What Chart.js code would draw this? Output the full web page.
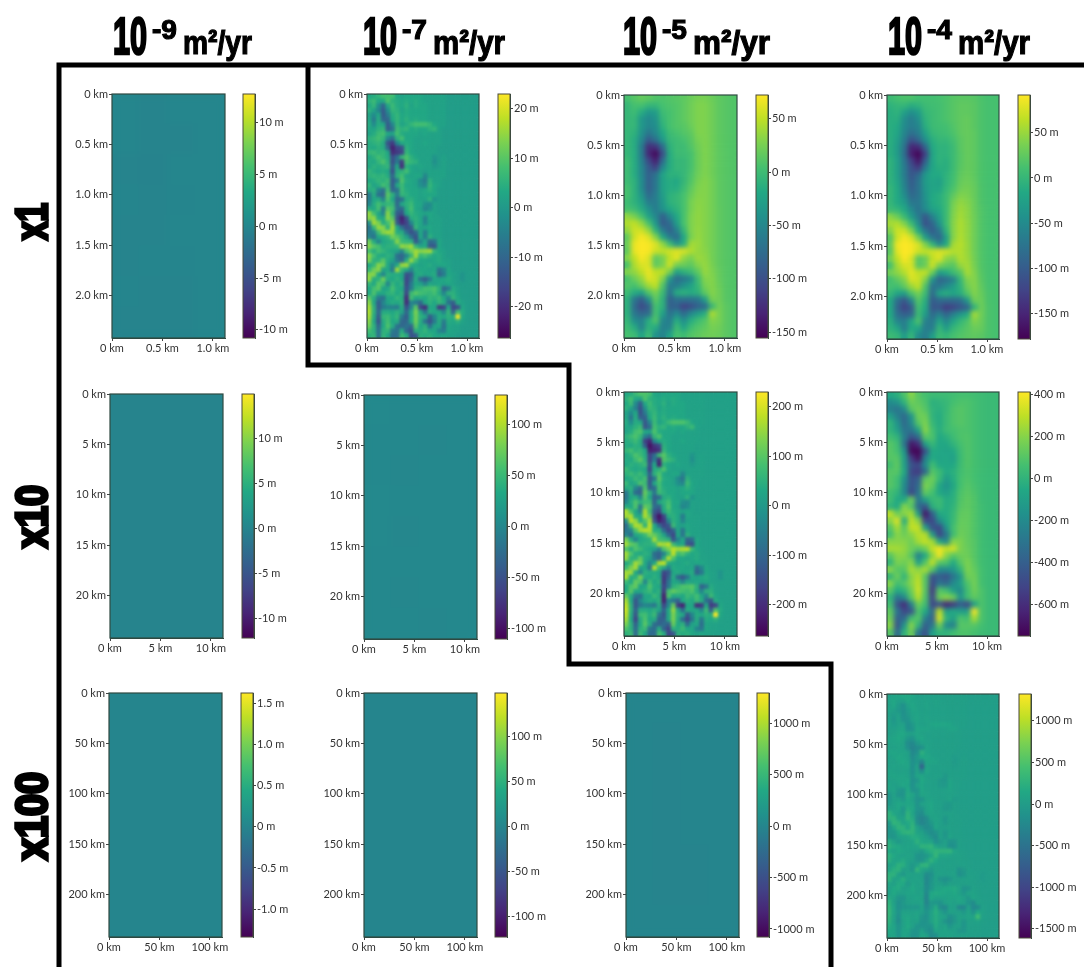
<!DOCTYPE html>
<html>
<head>
<meta charset="utf-8">
<title>Relief change grid</title>
<script src="https://cdn.jsdelivr.net/npm/chart.js@4"></script>
<style>
  html, body { margin: 0; background: #fff; }
  #page { position: relative; width: 1084px; height: 967px; overflow: hidden; }
  #page canvas { position: absolute; }
  #overlay { position: absolute; left: 0; top: 0; }
  #overlay text { font-family: "Liberation Sans Narrow", "Liberation Sans", sans-serif; font-weight: 700; fill: #000; stroke: #000; }
</style>
</head>
<body>
<div id="page"></div>
<script>
// difference fields in metres
// the sharp panels are 24 columns x 52 rows, the smooth ones 16 x 35
const d7x1 = [
[3,4,6,8,8,8,3,2,3,3,3,3,2,2,2,2,2,1,1,1,1,1,1,1],[5,7,3,3,9,5,4,3,4,3,4,3,2,2,2,2,2,1,1,1,1,1,1,1],[3,6,-2,-10,3,7,4,3,5,2,4,3,3,2,2,2,2,1,1,1,1,1,1,1],
[5,2,-4,-12,-2,6,5,2,4,3,3,3,3,2,2,2,2,1,1,1,1,1,1,1],[2,-3,3,-12,-6,4,6,3,4,3,3,3,3,2,2,2,2,1,1,1,1,1,1,1],[3,-6,4,-10,-10,3,6,3,5,3,4,3,3,2,2,2,2,1,1,1,1,1,1,1],
[4,-3,4,3,-12,-4,6,2,4,6,8,8,8,6,3,2,2,1,1,1,1,1,1,1],[3,2,5,6,-12,-8,7,5,6,3,4,3,3,5,6,2,1,1,1,1,1,1,1,1],[2,4,7,8,3,2,8,4,3,3,3,2,3,2,2,2,1,1,1,1,1,1,1,1],
[5,6,8,6,-4,-8,5,8,3,3,2,2,2,2,2,2,1,1,1,1,1,1,1,1],[4,5,6,4,-14,-18,-4,3,4,3,2,2,3,2,2,2,1,1,1,1,1,1,1,1],[4,3,5,4,-10,-22,-16,-14,5,3,2,2,2,2,2,1,1,1,1,1,1,1,1,1],
[6,7,5,6,3,-20,-18,-16,6,3,2,2,2,2,2,1,1,1,1,1,1,1,1,1],[3,5,8,6,4,-14,-8,6,9,5,3,2,2,2,-1,1,2,1,1,1,1,1,1,1],[4,3,6,9,5,-14,-6,-18,8,6,5,2,2,2,-2,1,2,1,1,1,1,1,1,1],
[3,5,4,5,6,-12,3,-20,5,3,2,3,2,2,0,1,2,1,1,1,1,1,1,1],[6,4,3,4,3,-14,4,5,8,3,2,2,1,2,2,2,2,1,1,1,1,1,1,1],[5,6,5,6,4,-10,5,8,3,2,3,3,-4,2,2,2,2,1,1,1,1,1,1,1],
[3,4,6,5,7,-12,-6,9,4,3,2,-3,-6,5,2,2,1,1,1,1,1,1,1,1],[6,2,4,8,6,-12,3,7,3,3,2,-2,-4,6,3,2,1,1,1,1,1,1,1,1],[4,5,-4,-8,8,-10,-8,7,4,3,3,2,3,5,3,1,1,1,1,1,1,1,1,1],
[-6,4,-8,-10,10,5,-6,6,5,3,3,2,3,3,3,1,1,1,1,1,1,1,1,1],[-6,3,4,-4,9,3,-10,-8,4,5,3,2,2,5,-1,1,1,1,1,1,1,1,1,1],[-4,4,8,5,6,6,-10,3,5,7,3,3,-2,-3,2,1,1,1,1,1,1,1,1,1],
[4,3,8,-6,10,8,-8,-10,4,8,3,2,-4,-2,2,1,1,1,1,1,1,1,1,1],[15,8,3,-4,14,6,-12,-14,3,6,4,3,2,3,2,1,1,1,1,1,1,1,1,1],[14,15,4,3,14,10,-14,-22,-14,4,5,3,-5,3,2,2,1,1,1,1,1,1,1,1],
[-2,16,13,4,8,14,-12,-20,-16,-4,5,3,-4,2,2,2,1,1,1,1,1,1,1,1],[-8,6,15,14,5,16,3,-8,-14,-12,6,2,2,3,2,2,1,1,1,1,1,1,1,1],[-6,-4,8,14,16,15,4,4,-8,-14,-10,3,-6,3,2,2,1,1,1,1,1,1,1,1],
[-4,-8,3,4,6,12,10,6,2,-8,-14,3,-6,5,2,2,1,1,1,1,1,1,1,1],[12,4,-4,3,4,5,14,7,6,5,-12,-4,3,-10,-8,3,1,1,1,1,1,1,1,1],[14,10,8,4,5,5,6,15,14,16,6,2,3,-12,-13,3,1,1,1,1,1,1,1,1],
[8,4,8,6,4,3,2,-4,8,12,16,14,15,16,6,3,2,1,1,1,1,1,1,1],[14,8,4,3,5,4,-8,-10,-4,6,16,6,8,5,3,4,2,1,1,1,1,1,1,1],[13,5,5,10,4,2,-6,-10,4,15,8,3,3,2,3,4,2,2,1,1,1,1,1,1],
[3,6,14,12,3,-4,3,15,16,4,3,2,3,4,2,3,3,2,1,1,1,1,1,1],[6,12,14,2,3,-6,16,6,3,-4,4,3,3,2,3,-8,-4,3,1,1,1,1,1,1],[14,14,3,-4,5,4,4,3,-14,-12,3,4,2,3,4,-10,-6,3,2,1,-1,1,1,1],
[15,4,5,12,4,3,5,3,-16,-10,4,-8,-12,-6,3,2,3,4,2,1,-1,1,1,1],[6,3,10,8,-4,6,3,5,-16,-6,3,2,-4,3,2,3,2,3,2,1,1,1,1,1],[3,8,10,2,3,8,4,3,-14,-6,5,6,8,8,9,5,-10,-6,4,2,1,1,1,1],
[3,9,3,3,5,6,3,5,-16,7,10,8,7,6,8,4,-4,5,5,2,1,1,1,1],[10,4,-6,-8,3,3,6,4,-20,8,3,4,3,6,5,7,3,-4,6,3,1,1,1,1],[14,3,-12,-4,2,4,3,5,-20,-4,-6,-10,3,5,3,6,4,-8,-12,4,2,1,1,1],
[16,5,-12,-6,-4,-5,-6,4,-14,-4,10,-16,-20,3,3,-18,-16,3,-16,-14,3,1,1,1],[17,5,-10,4,4,3,5,2,-10,3,13,3,-8,4,3,3,-4,6,-10,8,4,1,1,1],[16,4,-12,6,7,4,6,-6,-12,3,12,5,3,-12,-4,4,3,5,4,22,3,1,1,1],
[14,3,-14,4,8,3,4,-10,-10,3,12,4,-8,-14,-6,4,-6,4,3,5,2,1,1,1],[12,5,-10,3,9,4,-8,-10,-8,-10,10,3,5,-8,2,3,-8,3,2,2,1,1,1,1],[8,5,-8,5,6,-6,-8,4,-10,-14,5,4,6,3,3,-4,-6,3,2,2,1,1,1,1],
[5,6,-8,6,3,-8,-8,7,4,-14,-12,5,4,5,3,2,3,2,2,1,1,1,1,1]
];
const d5x1 = [
[5,12,18,15,10,8,10,12,15,20,25,25,20,15,12,10],[-5,5,5,-5,-5,5,8,10,15,22,28,28,22,15,12,10],[-5,0,-15,-35,-30,0,5,10,15,22,28,28,22,15,12,10],
[-5,-5,-35,-50,-40,-5,5,10,15,22,28,28,22,15,12,10],[-5,-5,-35,-50,-45,-10,5,10,12,20,28,28,22,15,12,10],[-5,-10,-40,-65,-50,-20,0,5,10,15,28,28,22,15,12,10],
[-5,-15,-50,-90,-70,-35,-5,0,5,12,25,28,22,15,12,10],[-5,-15,-60,-125,-120,-75,-10,0,0,10,22,28,22,15,12,10],[-5,-15,-60,-130,-150,-100,-15,0,0,5,20,28,22,15,12,10],
[0,-15,-55,-105,-135,-75,-15,-5,-5,5,20,28,22,15,12,10],[0,-15,-50,-90,-110,-50,-15,-5,-5,5,20,28,22,15,12,10],[0,-15,-50,-85,-70,-25,-10,-10,-5,8,22,28,22,15,12,10],
[0,-10,-45,-85,-65,-25,-15,-20,-5,10,25,30,24,15,12,10],[5,-10,-45,-85,-65,-25,-15,-15,0,15,28,30,24,15,12,10],[5,-10,-35,-75,-60,-30,-10,-5,5,20,30,30,24,15,12,10],
[0,-10,-25,-60,-60,-35,-10,-5,5,25,32,30,24,15,12,10],[5,0,-15,-40,-60,-40,-20,-10,5,25,33,30,24,16,12,10],[35,25,5,-25,-50,-85,-50,-20,5,28,34,30,24,16,12,10],
[45,50,35,5,-35,-90,-75,-30,5,28,34,30,24,16,12,10],[35,55,55,35,-10,-60,-85,-55,-5,28,35,30,24,16,12,10],[15,55,70,60,30,-20,-60,-75,-20,25,36,30,24,16,12,10],
[20,65,72,70,60,35,0,-40,-15,40,38,30,24,16,12,10],[15,65,72,70,55,50,55,60,58,45,36,32,24,16,12,10],[30,50,70,60,15,25,50,62,35,25,38,34,24,16,12,10],
[5,45,60,60,15,25,55,25,20,15,30,36,26,16,12,10],[30,35,50,65,50,50,25,-25,-10,0,15,36,28,18,12,10],[5,20,35,60,55,30,-35,-75,-65,-50,0,30,30,18,12,10],
[10,5,20,40,50,10,-60,-60,-40,-25,-5,25,30,20,12,10],[0,-15,-25,10,25,0,-70,-15,-10,-15,-10,15,30,22,12,10],[-10,-65,-90,-45,15,-10,-85,-70,-70,-70,-65,-30,25,22,12,10],
[-10,-75,-105,-85,5,-10,-85,-85,-110,-100,-85,-75,-5,24,14,10],[-10,-65,-80,-75,5,-25,-70,-50,-75,-50,-30,-15,45,25,14,10],[-5,-45,-55,-15,10,-50,-60,-15,-45,-15,0,10,30,25,14,10],
[0,-15,-55,-10,-15,-55,-55,0,-25,0,10,15,25,22,14,10],[5,0,-25,0,-40,-55,-25,5,0,10,15,20,22,20,14,10]
];
const d4x1 = [
[5,12,15,15,10,10,10,12,15,20,22,22,20,15,12,12],[-5,0,0,-10,-5,5,8,10,15,20,25,25,22,15,12,12],[-10,-5,-25,-45,-30,0,5,10,15,20,25,25,22,15,12,12],
[-10,-10,-45,-65,-45,-5,5,10,15,20,25,28,22,15,12,12],[-10,-15,-50,-65,-55,-10,5,8,10,18,25,28,22,15,12,12],[-10,-20,-55,-80,-65,-25,0,5,8,15,25,28,24,15,12,12],
[-10,-25,-65,-110,-90,-45,-10,0,0,10,22,28,24,15,12,12],[-10,-30,-75,-150,-145,-90,-15,-5,-5,5,22,28,24,15,12,12],[-10,-30,-80,-155,-175,-125,-20,-5,-5,5,20,28,24,15,12,12],
[-5,-25,-70,-125,-160,-95,-20,-5,-10,5,20,28,24,15,12,12],[-5,-25,-65,-110,-130,-65,-20,-10,-10,5,22,28,24,15,12,12],[-5,-25,-65,-105,-85,-35,-15,-15,-5,8,25,30,24,15,12,12],
[-5,-20,-60,-100,-75,-30,-20,-25,-5,10,28,32,26,15,12,12],[0,-15,-55,-95,-75,-35,-20,-20,0,15,32,35,28,16,12,12],[0,-15,-45,-85,-75,-40,-15,-10,5,25,40,38,28,16,12,12],
[0,-15,-30,-70,-70,-45,-15,-10,5,35,48,42,30,16,12,12],[5,0,-15,-50,-75,-50,-25,-15,5,38,52,45,30,18,12,12],[45,30,5,-30,-65,-105,-60,-25,5,40,55,45,32,18,12,12],
[55,60,40,5,-45,-110,-90,-40,5,42,58,48,32,18,12,12],[40,70,70,40,-15,-70,-100,-70,-5,42,58,48,32,18,12,12],[20,70,88,75,35,-25,-70,-90,-25,42,60,48,32,18,12,12],
[25,85,92,88,75,40,0,-50,-15,55,62,50,32,18,12,12],[20,80,92,88,70,65,70,75,72,60,60,50,32,18,12,12],[35,65,90,75,20,30,65,78,45,40,60,52,34,18,12,12],
[10,55,75,75,20,30,70,35,25,20,48,55,36,18,12,12],[35,45,60,80,65,65,30,-30,-15,5,20,55,40,20,12,12],[10,25,40,75,70,40,-40,-90,-80,-60,0,40,42,22,12,12],
[12,8,25,50,65,15,-75,-70,-50,-30,-5,32,42,25,12,12],[0,-20,-30,15,35,5,-85,-20,-10,-20,-10,18,40,28,14,12],[-15,-80,-105,-55,20,-10,-100,-85,-85,-85,-80,-35,32,30,14,12],
[-15,-90,-125,-100,10,-15,-105,-105,-130,-120,-105,-90,-5,32,15,12],[-15,-80,-95,-90,5,-30,-85,-60,-90,-60,-35,-15,55,32,15,12],[-10,-55,-65,-20,15,-60,-70,-20,-55,-20,0,15,40,30,15,12],
[-5,-20,-65,-15,-20,-65,-65,0,-30,0,12,20,30,28,15,12],[5,0,-30,0,-50,-65,-30,5,0,12,18,22,25,22,15,12]
];
const d5x10 = [
[30,40,70,90,90,80,30,20,30,30,30,30,20,20,20,20,20,15,15,15,15,15,15,15],[50,80,30,20,90,50,40,30,40,30,40,30,20,20,20,20,20,15,15,15,15,15,15,15],[30,70,-30,-120,30,70,40,30,50,20,40,30,30,20,20,20,20,15,15,15,15,15,15,15],
[50,20,-50,-140,-20,60,50,20,40,30,30,30,30,20,20,20,20,15,15,15,15,15,15,15],[20,-30,30,-140,-60,40,60,30,40,30,30,30,30,20,20,20,20,15,15,15,15,15,15,15],[30,-70,40,-110,-110,30,70,30,50,30,40,30,30,20,20,20,20,15,15,15,15,15,15,15],
[40,-30,40,30,-130,-40,70,20,40,70,90,90,90,70,30,20,20,15,15,15,15,15,15,15],[30,20,50,70,-130,-90,80,50,60,30,40,30,30,50,70,20,15,15,15,15,15,15,15,15],[20,40,80,90,30,20,90,40,30,30,30,20,30,20,20,20,15,15,15,15,15,15,15,15],
[50,70,90,60,-50,-90,60,90,30,30,20,20,20,20,20,20,15,15,15,15,15,15,15,15],[40,50,70,40,-170,-210,-40,30,40,30,20,20,30,20,20,20,15,15,15,15,15,15,15,15],[40,30,50,40,-120,-240,-190,-160,50,30,20,20,20,20,20,15,15,15,15,15,15,15,15,15],
[60,80,50,60,30,-220,-210,-190,60,30,20,20,20,20,20,15,15,15,15,15,15,15,15,15],[30,50,90,70,40,-160,-90,70,100,50,30,20,20,20,-10,15,20,15,15,15,15,15,15,15],[40,30,70,100,50,-160,-60,-200,90,70,50,20,20,20,-20,15,20,15,15,15,15,15,15,15],
[30,50,40,50,70,-140,30,-220,50,30,20,30,20,20,0,15,20,15,15,15,15,15,15,15],[70,40,30,40,30,-160,40,50,90,30,20,20,15,20,20,20,20,15,15,15,15,15,15,15],[50,70,50,70,40,-110,50,90,30,20,30,30,-40,20,20,20,20,15,15,15,15,15,15,15],
[30,40,70,50,80,-130,-70,100,40,30,20,-30,-70,50,20,20,15,15,15,15,15,15,15,15],[70,20,40,90,70,-130,30,80,30,30,20,-20,-40,70,30,20,15,15,15,15,15,15,15,15],[40,50,-40,-90,90,-110,-90,80,40,30,30,20,30,50,30,15,15,15,15,15,15,15,15,15],
[-70,40,-90,-110,110,50,-70,70,50,30,30,20,30,30,30,15,15,15,15,15,15,15,15,15],[-70,30,40,-40,100,30,-110,-90,40,50,30,20,20,50,-10,15,15,15,15,15,15,15,15,15],[-40,40,90,50,70,70,-110,30,50,80,30,30,-20,-30,20,15,15,15,15,15,15,15,15,15],
[40,30,90,-70,110,90,-90,-110,40,90,30,20,-40,-20,20,15,15,15,15,15,15,15,15,15],[170,90,30,-40,170,70,-130,-160,30,70,40,30,20,30,20,15,15,15,15,15,15,15,15,15],[160,170,40,30,170,110,-160,-240,-160,40,50,30,-60,30,20,20,15,15,15,15,15,15,15,15],
[-20,180,150,40,90,160,-130,-220,-180,-40,50,30,-40,20,20,20,15,15,15,15,15,15,15,15],[-90,70,170,160,50,180,30,-90,-160,-130,70,20,20,30,20,20,15,15,15,15,15,15,15,15],[-70,-40,90,160,180,170,40,40,-90,-160,-110,30,-70,30,20,20,15,15,15,15,15,15,15,15],
[-40,-90,30,40,70,130,110,70,20,-90,-160,30,-70,50,20,20,15,15,15,15,15,15,15,15],[130,40,-40,30,40,50,160,80,70,50,-130,-40,30,-110,-90,30,15,15,15,15,15,15,15,15],[160,110,90,40,50,50,70,170,160,180,70,20,30,-130,-150,30,15,15,15,15,15,15,15,15],
[90,40,90,70,40,30,20,-40,90,130,180,160,170,180,70,30,20,15,15,15,15,15,15,15],[160,90,40,30,50,40,-90,-110,-40,70,180,70,90,50,30,40,20,15,15,15,15,15,15,15],[150,50,50,110,40,20,-70,-110,40,170,90,30,30,20,30,40,20,20,15,15,15,15,15,15],
[30,70,160,130,30,-40,30,170,180,40,30,20,30,40,20,30,30,20,15,15,15,15,15,15],[70,130,160,20,30,-70,180,70,30,-40,40,30,30,20,30,-90,-40,30,15,15,15,15,15,15],[160,160,30,-40,50,40,40,30,-160,-130,30,40,20,30,40,-110,-70,30,20,15,-10,15,15,15],
[170,40,50,130,40,30,50,30,-180,-110,40,-90,-130,-70,30,20,30,40,20,15,-10,15,15,15],[70,30,110,90,-40,70,30,50,-180,-70,30,20,-40,30,20,30,20,30,20,15,15,15,15,15],[30,90,110,20,30,90,40,30,-160,-70,50,70,90,90,100,50,-110,-70,40,20,15,15,15,15],
[30,100,30,30,50,70,30,50,-180,80,110,90,80,70,90,40,-40,50,50,20,15,15,15,15],[110,40,-70,-90,30,30,70,40,-220,90,30,40,30,70,50,80,30,-40,70,30,15,15,15,15],[160,30,-130,-40,20,40,30,50,-220,-40,-70,-110,30,50,30,70,40,-90,-130,40,20,15,15,15],
[180,50,-130,-70,-40,-50,-70,40,-160,-40,110,-180,-220,30,30,-200,-180,30,-180,-160,30,15,15,15],[190,50,-110,40,40,30,50,20,-110,30,150,30,-90,40,30,30,-40,70,-110,90,40,15,15,15],[180,40,-130,70,80,40,70,-70,-130,30,130,50,30,-130,-40,40,30,50,40,230,30,15,15,15],
[160,30,-160,40,90,30,40,-110,-110,30,130,40,-90,-160,-70,40,-70,40,30,50,20,15,15,15],[130,50,-110,30,100,40,-90,-110,-90,-110,110,30,50,-90,20,30,-90,30,20,20,15,15,15,15],[90,50,-90,50,70,-70,-90,40,-110,-160,50,40,70,30,30,-40,-70,30,20,20,15,15,15,15],
[50,70,-90,70,30,-90,-90,80,40,-160,-130,50,40,50,30,20,30,20,20,15,15,15,15,15]
];
const d4x10 = [
[-50,-20,80,200,100,60,40,40,40,50,60,60,50,40,30,30],[-200,-150,0,150,120,80,-20,0,20,60,80,80,60,40,30,30],[-250,-300,-200,100,150,100,0,-20,20,80,100,80,60,40,30,30],
[-100,-250,-350,-150,150,150,0,-40,30,80,100,80,60,40,30,30],[0,-150,-350,-200,100,180,20,-40,30,80,100,80,60,40,30,30],[0,-100,-300,-300,-100,200,60,-30,40,60,80,80,60,40,30,30],
[50,0,-250,-450,-350,100,80,-60,-20,40,80,90,60,40,30,30],[100,50,-300,-680,-600,-100,20,-60,-60,0,60,90,60,40,30,30],[100,60,-150,-720,-740,-450,-50,-60,-80,-60,40,90,60,40,30,30],
[100,100,-100,-550,-700,-250,-50,-80,-60,-100,30,90,60,40,30,30],[50,120,-100,-450,-500,-200,50,-60,-60,-60,40,90,60,40,30,30],[100,100,-50,-500,-550,-350,100,40,-50,-20,50,80,60,40,30,30],
[100,50,-150,-450,-400,120,150,20,-120,-40,60,90,60,40,30,30],[100,50,-200,-450,-350,180,120,-60,-160,-60,60,100,70,40,30,30],[50,0,-200,-500,-300,120,60,-60,-100,-30,80,110,80,40,30,30],
[50,-50,-50,150,-300,-100,20,40,-40,-20,90,120,90,40,30,30],[0,-50,200,100,-350,-450,-20,30,-40,0,100,120,90,50,30,30],[300,150,200,250,-100,-680,-400,-50,-40,20,120,130,90,50,30,30],
[200,350,-50,300,200,-500,-500,-200,-60,30,130,130,90,50,30,30],[100,250,100,300,300,-100,-450,-500,-150,60,140,130,90,50,30,30],[50,200,150,200,280,280,-100,-500,-300,50,150,130,90,50,30,30],
[200,200,200,150,250,300,250,-50,-200,200,180,130,100,50,30,30],[250,250,220,150,100,150,300,380,300,330,180,140,100,50,30,30],[100,200,200,100,-250,-50,200,380,200,100,150,150,100,50,30,30],
[0,180,150,200,-100,100,300,100,80,-50,100,180,110,50,30,30],[200,100,100,250,200,250,100,-200,-200,-150,0,180,130,60,30,30],[0,150,0,200,280,100,-450,-400,-450,-300,-150,150,150,60,30,30],
[200,50,100,200,300,100,-500,-300,-350,-200,-100,80,160,60,30,30],[100,-50,0,150,320,100,-550,100,50,-100,-200,50,150,80,30,30],[0,-300,-200,100,280,80,-500,150,200,150,-150,50,120,80,30,30],
[50,-450,-600,-250,150,50,-500,-450,-620,-550,-400,-500,-100,80,30,30],[120,-300,-500,-450,80,-50,-350,300,-100,-50,-100,-100,400,80,30,30],[150,-400,-350,50,100,-250,-400,350,0,-100,80,50,250,80,30,30],
[200,-450,-150,200,0,-400,-300,150,-200,-250,100,100,100,60,30,30],[100,-350,0,150,-300,-450,-100,0,0,50,80,80,60,40,30,30]
];
const d4x100 = [
[50,80,100,150,150,120,50,30,50,50,50,50,30,30,30,30,30,20,20,20,20,20,20,20],[80,120,50,30,150,80,60,50,60,50,60,50,30,30,30,30,30,20,20,20,20,20,20,20],[50,120,-30,-150,50,120,60,50,80,30,60,50,50,30,30,30,30,20,20,20,20,20,20,20],
[80,30,-50,-150,-20,100,80,30,60,50,50,50,50,30,30,30,30,20,20,20,20,20,20,20],[30,-30,50,-150,-50,60,100,50,60,50,50,50,50,30,30,30,30,20,20,20,20,20,20,20],[50,-80,60,-120,-120,50,100,50,80,50,60,50,50,30,30,30,30,20,20,20,20,20,20,20],
[60,-30,60,50,-150,-50,100,30,60,100,120,120,120,100,50,30,30,20,20,20,20,20,20,20],[50,30,80,100,-150,-100,120,80,100,50,60,50,50,80,100,30,20,20,20,20,20,20,20,20],[30,60,120,150,50,30,120,60,50,50,50,30,50,30,30,30,20,20,20,20,20,20,20,20],
[80,100,150,100,-50,-100,80,120,50,50,30,30,30,30,30,30,20,20,20,20,20,20,20,20],[60,80,100,60,-200,-250,-50,50,60,50,30,30,50,30,30,30,20,20,20,20,20,20,20,20],[60,50,80,60,-150,-300,-200,-150,80,50,30,30,30,30,30,20,20,20,20,20,20,20,20,20],
[100,120,80,100,50,-250,-150,250,100,50,30,30,30,30,30,20,20,20,20,20,20,20,20,20],[50,80,150,100,60,-200,-50,150,150,80,50,30,30,30,-20,20,30,20,20,20,20,20,20,20],[60,50,100,150,80,-150,-50,-300,100,100,80,30,30,30,-30,20,30,20,20,20,20,20,20,20],
[50,80,60,80,100,-150,50,-700,80,50,30,50,30,30,0,20,30,20,20,20,20,20,20,20],[100,60,50,60,50,-150,60,-200,120,50,30,30,20,30,30,30,30,20,20,20,20,20,20,20],[80,100,80,100,60,-120,80,120,50,30,50,50,-50,30,30,30,30,20,20,20,20,20,20,20],
[50,60,100,80,120,-150,-80,150,60,50,30,-50,-80,80,30,30,20,20,20,20,20,20,20,20],[100,30,60,120,100,-150,50,120,50,50,30,-30,-50,100,50,30,20,20,20,20,20,20,20,20],[60,80,-50,-100,150,-120,-100,120,60,50,50,30,50,80,50,20,20,20,20,20,20,20,20,20],
[-80,60,-100,-120,180,80,-80,100,80,50,50,30,50,50,50,20,20,20,20,20,20,20,20,20],[-80,50,60,-50,150,50,-120,-100,60,80,50,30,30,80,-20,20,20,20,20,20,20,20,20,20],[-50,60,120,80,100,100,-120,50,80,120,50,50,-30,-50,30,20,20,20,20,20,20,20,20,20],
[60,50,120,-80,180,120,-100,-120,60,120,50,30,-50,-30,30,20,20,20,20,20,20,20,20,20],[280,120,50,-50,280,100,-150,-200,50,100,60,50,30,50,30,20,20,20,20,20,20,20,20,20],[250,280,60,50,280,180,-200,-300,-200,60,80,50,-80,50,30,30,20,20,20,20,20,20,20,20],
[-30,300,250,60,150,250,-150,-300,-200,-50,80,50,-50,30,30,30,20,20,20,20,20,20,20,20],[-100,100,280,260,80,300,50,-100,-200,-150,100,30,30,50,30,30,20,20,20,20,20,20,20,20],[-80,-50,150,260,300,280,60,60,-100,-200,-120,50,-80,50,30,30,20,20,20,20,20,20,20,20],
[-50,-100,50,60,100,200,180,100,30,-100,-200,50,-80,80,30,30,20,20,20,20,20,20,20,20],[200,60,-50,50,60,80,260,120,100,80,-150,-50,50,-120,-100,50,20,20,20,20,20,20,20,20],[260,180,150,60,80,80,100,280,260,300,100,30,50,-150,-150,50,20,20,20,20,20,20,20,20],
[150,60,150,100,60,50,30,-50,150,220,300,280,280,300,100,50,30,20,20,20,20,20,20,20],[250,150,60,50,80,60,-100,-120,-50,100,320,100,120,80,50,60,30,20,20,20,20,20,20,20],[230,80,80,180,60,30,-80,-120,60,280,150,50,50,30,50,60,30,30,20,20,20,20,20,20],
[50,100,260,220,50,-50,50,280,300,60,50,30,50,60,30,50,50,30,20,20,20,20,20,20],[100,220,260,30,50,-80,300,100,50,-50,60,50,50,30,50,-120,-50,50,20,20,20,20,20,20],[260,260,50,-50,80,60,60,50,-200,-150,50,60,30,50,60,-150,-80,50,30,20,-20,20,20,20],
[280,60,80,220,60,50,80,50,-250,-120,60,-100,-150,-80,50,30,50,60,30,20,-20,20,20,20],[100,50,180,150,-50,100,50,80,-250,-80,50,30,-50,50,30,50,30,50,30,20,20,20,20,20],[50,150,180,30,50,150,60,50,-200,-80,80,100,150,150,180,80,-120,-80,60,30,20,20,20,20],
[50,160,50,50,80,100,50,80,-250,120,180,150,120,100,150,60,-50,80,80,30,20,20,20,20],[180,60,-80,-100,50,50,100,60,-300,150,50,60,50,100,80,120,50,-50,100,50,20,20,20,20],[260,50,-150,-50,30,60,50,80,-300,-50,-80,-120,50,80,50,100,60,-100,-200,60,30,20,20,20],
[300,80,-150,-80,-50,-50,-80,60,-200,-50,180,-200,-250,50,50,-250,-250,50,-250,-200,50,20,20,20],[320,80,-120,60,60,50,80,30,-120,50,220,50,-100,60,50,50,-50,100,-120,150,60,20,20,20],[300,60,-150,100,120,60,100,-80,-150,50,200,80,50,-150,-50,60,50,80,60,400,50,20,20,20],
[260,50,-200,60,150,50,60,-120,-120,50,200,60,-100,-200,-80,60,-80,60,50,80,30,20,20,20],[200,80,-120,50,160,60,-100,-120,-100,-120,180,50,80,-100,30,50,-100,50,30,30,20,20,20,20],[150,80,-100,80,100,-80,-100,60,-120,-200,80,60,100,50,50,-50,-80,50,30,30,20,20,20,20],
[80,100,-100,100,50,-100,-100,120,60,-200,-150,80,60,80,50,30,50,30,30,20,20,20,20,20]
];
// the nearly flat panels only need a few cells
const d9x1 = [[0,-.2,0,0],[0,-.2,-.2,0],[-.2,-.3,0,0],[-.1,-.2,-.1,0],[-.2,-.2,0,0],[-.2,-.1,-.1,0],[-.1,-.2,-.2,0],[-.2,-.2,-.2,0]];
const d9x10 = [[0]];
const d9x100 = [[0]];
const d7x10 = [[2,1,1,1],[1,1,0,1],[1,0,1,1],[2,1,1,1],[2,0,1,1],[1,1,1,1],[1,0,1,1],[1,1,0,1]];
const d7x100 = [[0]];
const d5x100 = [[0,-8,0,0],[-8,-15,0,0],[-5,-10,-5,0],[-8,-15,-5,0],[-8,-10,-5,0],[-5,-15,-10,0],[-8,-15,-10,0],[-5,-8,-5,0]];

// colour bar limits and ticks in metres
const cbarMin = [-10.8, -26.3, -155.6, -178, -12.2, -110, -263, -752, -1.34, -123, -1078, -1610];
const cbarMax = [12.8, 23, 72.4, 91.7, 15, 129, 230, 410, 1.63, 148, 1297, 1322];
const cbarTicks = [
  [10,5,0,-5,-10], [20,10,0,-10,-20], [50,0,-50,-100,-150], [50,0,-50,-100,-150],
  [10,5,0,-5,-10], [100,50,0,-50,-100], [200,100,0,-100,-200], [400,200,0,-200,-400,-600],
  [1.5,1,.5,0,-.5,-1], [100,50,0,-50,-100], [1000,500,0,-500,-1000], [1000,500,0,-500,-1000,-1500]
];
const cbarLabels = [
  ['10 m','5 m','0 m','-5 m','-10 m'], ['20 m','10 m','0 m','-10 m','-20 m'], ['50 m','0 m','-50 m','-100 m','-150 m'], ['50 m','0 m','-50 m','-100 m','-150 m'],
  ['10 m','5 m','0 m','-5 m','-10 m'], ['100 m','50 m','0 m','-50 m','-100 m'], ['200 m','100 m','0 m','-100 m','-200 m'], ['400 m','200 m','0 m','-200 m','-400 m','-600 m'],
  ['1.5 m','1.0 m','0.5 m','0 m','-0.5 m','-1.0 m'], ['100 m','50 m','0 m','-50 m','-100 m'], ['1000 m','500 m','0 m','-500 m','-1000 m'], ['1000 m','500 m','0 m','-500 m','-1000 m','-1500 m']
];
// distance axes per row
const xTickVals = [[0,.5,1], [0,5,10], [0,50,100]];
const xTickLabels = [['0 km','0.5 km','1.0 km'], ['0 km','5 km','10 km'], ['0 km','50 km','100 km']];
const yTickVals = [[0,.5,1,1.5,2], [0,5,10,15,20], [0,50,100,150,200]];
const yTickLabels = [['0 km','0.5 km','1.0 km','1.5 km','2.0 km'], ['0 km','5 km','10 km','15 km','20 km'], ['0 km','50 km','100 km','150 km','200 km']];
const xEnd = [1.12, 11.2, 112];
const yEnd = [2.42, 24.2, 242];

const fields = [d9x1, d7x1, d5x1, d4x1, d9x10, d7x10, d5x10, d4x10, d9x100, d7x100, d5x100, d4x100];
const titles = ['-9', '-7', '-5', '-4'];
const rowNames = ['x1', 'x10', 'x100'];

// layout: plot left, top, right, bottom, colour bar left, right
const boxes = [
  [112,94,225,338,243,255], [367,94,479,338,498,510], [624,95,737,338,756,768], [887,95,999,339,1018,1030],
  [110,394,223,638,242,254], [364,395,477,639,495,507], [624,392,737,636,756,768], [887,392,999,636,1018,1030],
  [109,693,222,937,241,253], [364,693,477,937,495,507], [626,693,739,937,757,769], [887,694,999,938,1019,1031]
];
const blurs = [4,1.7,2.6,2.6,0,4,1.7,2.6,0,0,4,1.5];

const viridis = ['#440154','#482475','#414487','#355f8d','#2a788e','#21918c','#22a884','#44bf70','#7ad151','#bddf26','#fde725'];
const rgb = viridis.map(h => [1,3,5].map(i => parseInt(h.substr(i,2),16)));
function colourAt(t) {
  t = Math.max(0, Math.min(1, t)) * 10;
  const i = Math.min(9, Math.floor(t)), f = t - i;
  const c = rgb[i].map((v,k) => Math.round(v + (rgb[i+1][k]-v)*f));
  return 'rgb(' + c.join(',') + ')';
}

const page = document.getElementById('page');
const tickFont = { family: 'Lato', size: 11 };
const tickColour = '#333';
const frameColour = '#2f4a42';

function addCanvas(left, top, w, h) {
  const c = document.createElement('canvas');
  c.width = w; c.height = h;
  c.style.left = left + 'px'; c.style.top = top + 'px';
  c.style.width = w + 'px'; c.style.height = h + 'px';
  page.appendChild(c);
  return c;
}

function fixedTicks(vals, labels) {
  return {
    afterBuildTicks: s => { s.ticks = vals.map(v => ({ value: v })); },
    ticks: { callback: (v, i) => labels[i], autoSkip: false, maxRotation: 0, minRotation: 0, font: tickFont, color: tickColour, padding: 1 },
    grid: { drawOnChartArea: false, drawTicks: true, tickLength: 3, color: '#444' },
    border: { color: frameColour }
  };
}

function heatPanel(idx) {
  const row = Math.floor(idx / 4);
  const b = boxes[idx], field = fields[idx];
  const lo = cbarMin[idx], hi = cbarMax[idx];
  const nr = field.length, nc = field[0].length;
  const pad = { left: 72, top: 10, right: 30, bottom: 28 };
  const cv = addCanvas(b[0]-pad.left, b[1]-pad.top, b[2]-b[0]+pad.left+pad.right, b[3]-b[1]+pad.top+pad.bottom);
  const pts = [];
  field.forEach((r, j) => r.forEach((v, i) => {
    pts.push({ x: (i+.5)/nc*xEnd[row], y: (j+.5)/nr*yEnd[row], v: v });
  }));
  const cellPx = Math.max((b[2]-b[0])/nc, (b[3]-b[1])/nr);
  const blur = blurs[idx];
  new Chart(cv, {
    type: 'scatter',
    data: { datasets: [{
      data: pts,
      clip: 0,
      pointStyle: 'rect',
      pointRadius: cellPx * 1.06 / Math.SQRT2,
      pointBorderWidth: 0,
      pointBackgroundColor: c => colourAt((c.raw.v - lo) / (hi - lo))
    }] },
    options: {
      responsive: false, animation: false, events: [],
      layout: { autoPadding: false, padding: { top: pad.top, right: pad.right, left: 0, bottom: 0 } },
      plugins: { legend: { display: false }, tooltip: { enabled: false } },
      scales: {
        x: Object.assign({ type: 'linear', min: 0, max: xEnd[row], afterFit: s => { s.height = pad.bottom; } }, fixedTicks(xTickVals[row], xTickLabels[row])),
        y: Object.assign({ type: 'linear', reverse: true, min: 0, max: yEnd[row], afterFit: s => { s.width = pad.left; } }, fixedTicks(yTickVals[row], yTickLabels[row]))
      }
    },
    plugins: [{
      id: 'smooth',
      afterDatasetsDraw(chart) {
        const a = chart.chartArea, ctx = chart.ctx;
        ctx.save();
        // soften the cell edges once they are all drawn
        if (blur) {
          ctx.beginPath();
          ctx.rect(a.left, a.top, a.width, a.height);
          ctx.clip();
          ctx.filter = 'blur(' + blur + 'px)';
          ctx.drawImage(chart.canvas, a.left, a.top, a.width, a.height, a.left, a.top, a.width, a.height);
          ctx.filter = 'none';
        }
        ctx.restore();
        ctx.save();
        ctx.strokeStyle = frameColour;
        ctx.lineWidth = 1.2;
        ctx.strokeRect(a.left, a.top, a.width, a.height);
        ctx.restore();
      }
    }]
  });
}

function colourBar(idx) {
  const b = boxes[idx];
  const pad = { left: 2, top: 10, right: 64, bottom: 10 };
  const cv = addCanvas(b[4]-pad.left, b[1]-pad.top, b[5]-b[4]+pad.left+pad.right, b[3]-b[1]+pad.top+pad.bottom);
  new Chart(cv, {
    type: 'bar',
    data: { labels: [''], datasets: [{
      data: [[cbarMin[idx], cbarMax[idx]]],
      barPercentage: 1, categoryPercentage: 1,
      backgroundColor: c => {
        const a = c.chart.chartArea;
        if (!a) return viridis[5];
        const g = c.chart.ctx.createLinearGradient(0, a.bottom, 0, a.top);
        viridis.forEach((col, i) => g.addColorStop(i / 10, col));
        return g;
      }
    }] },
    options: {
      responsive: false, animation: false, events: [],
      layout: { autoPadding: false, padding: { left: pad.left, top: pad.top, bottom: pad.bottom, right: 0 } },
      plugins: { legend: { display: false }, tooltip: { enabled: false } },
      scales: {
        x: { display: false },
        y: Object.assign({ position: 'right', min: cbarMin[idx], max: cbarMax[idx], afterFit: s => { s.width = pad.right; } }, fixedTicks(cbarTicks[idx], cbarLabels[idx]))
      }
    },
    plugins: [{
      id: 'cbarFrame',
      afterDatasetsDraw(chart) {
        const a = chart.chartArea, ctx = chart.ctx;
        ctx.save();
        ctx.strokeStyle = '#4a4a3a';
        ctx.lineWidth = 1;
        ctx.strokeRect(a.left, a.top, a.width, a.height);
        ctx.restore();
      }
    }]
  });
}

fields.forEach((f, i) => { heatPanel(i); colourBar(i); });

// headings, row names and the thick staircase frame
const svgNS = 'http://www.w3.org/2000/svg';
const svg = document.createElementNS(svgNS, 'svg');
svg.id = 'overlay';
svg.setAttribute('width', 1084); svg.setAttribute('height', 967);
page.appendChild(svg);

function svgText(str, x, y, size, len, sw, transform) {
  const t = document.createElementNS(svgNS, 'text');
  t.textContent = str;
  t.setAttribute('x', x); t.setAttribute('y', y);
  t.setAttribute('font-size', size);
  t.setAttribute('textLength', len);
  t.setAttribute('lengthAdjust', 'spacingAndGlyphs');
  t.setAttribute('stroke-width', sw);
  if (transform) t.setAttribute('transform', transform);
  svg.appendChild(t);
}

const titleX = [112, 362, 622, 887];
const titleEnd = [252, 505, 770, 1030];
titles.forEach((s, i) => {
  const b = titleX[i], e = titleEnd[i];
  svgText('10', b + 1, 54, 52, 34, 2.6);
  svgText(s, b + 40, 39, 28, 25, 1.2);
  svgText('m²/yr', b + 71, 54, 34, e - b - 71, 1.2);
});

const rowBase = [240, 548, 860];
const rowLen = [37, 63, 88];
rowNames.forEach((s, i) => {
  svgText(s, 0, 0, 44, rowLen[i], 3.5, 'translate(47,' + rowBase[i] + ') rotate(-90)');
});

function stroke(points) {
  const p = document.createElementNS(svgNS, 'polyline');
  p.setAttribute('points', points);
  p.setAttribute('fill', 'none');
  p.setAttribute('stroke', '#000');
  p.setAttribute('stroke-width', 5);
  svg.appendChild(p);
}
stroke('59,967 59,65 1084,65');
stroke('308,65 308,365 569,365 569,664 831,664 831,967');
</script>
</body>
</html>
